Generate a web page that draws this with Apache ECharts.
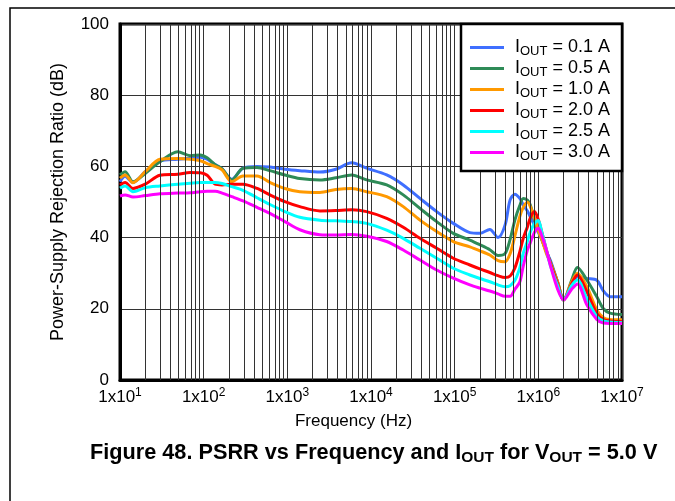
<!DOCTYPE html>
<html>
<head>
<meta charset="utf-8">
<script src="https://cdn.jsdelivr.net/npm/echarts@6/dist/echarts.min.js"></script>
<style>
  html, body { margin: 0; padding: 0; background: #fff; }
  #chart { width: 675px; height: 501px; }
</style>
</head>
<body>
<div id="chart"></div>
<script>
// frequency points (Hz)
const freqHz = [10, 11.5, 14.3, 20, 30, 49, 69, 91, 110, 137, 166, 217, 295, 434, 620, 935, 1410, 2450, 3800, 5870,
  8870, 15400, 24300, 38500, 61000, 96300, 152000, 200000, 263000, 330000, 400000, 460000, 525000, 600000, 660000,
  740000, 800000, 900000, 1000000, 1100000, 1250000, 1400000, 1700000, 2000000, 2500000, 2930000, 3800000,
  5000000, 6000000, 7200000, 10000000];

// PSRR (dB) for each load current
const psrr01 = [55.7, 57.2, 55.5, 58.5, 61.5, 62, 62.3, 62.6, 62, 60.5, 59.3, 56.4, 59.5, 60, 59.8, 59.2, 58.8, 58.4, 59.2, 61,
  59.5, 57.6, 54.8, 51, 47.3, 44, 41.4, 41.2, 42.3, 40, 43.5, 50.6, 52.2, 51, 49.2,
  47.5, 45.9, 43.5, 41.5, 39.5, 36, 33.5, 27.5, 22.5, 26.5, 29, 28.5,
  28, 25, 23.4, 23.4];
const psrr05 = [57.6, 58.5, 55.7, 58, 61.3, 64.1, 63, 63.2, 62.4, 60.5, 59.3, 56.2, 59.5, 59.7, 58.8, 57.6, 56.6, 56.2, 56.8, 57.6,
  56.2, 54.8, 52, 48.2, 44.5, 41.2, 39.3, 38, 36.6, 35, 35.5, 39.5, 45, 49, 51,
  50.5, 49.2, 45, 42, 39.5, 36, 33, 27.5, 22.5, 28, 31.6, 28.1,
  23.4, 20, 18.8, 18.4];
const psrr10 = [56.7, 57.6, 55.4, 58.5, 62, 62.2, 62, 61.6, 60.8, 60, 59, 55.7, 57.3, 57.3, 55.5, 53.8, 52.9, 52.7, 53.5, 53.8,
  52.9, 51.5, 48.7, 44.9, 41.7, 38.9, 37.4, 36.3, 35.1, 33.5, 33.2, 35.5, 40.5, 45.9, 48.5,
  49.9, 48.8, 45.5, 42, 39.5, 35.5, 32.8, 27.5, 22.5, 27.5, 30, 26.2,
  19.7, 17.5, 17, 16.9];
const psrr20 = [54.8, 55.5, 53.8, 55, 57.5, 57.8, 58.3, 58.2, 57.5, 55, 54.8, 55, 55, 53.8, 52, 50.1, 48.7, 47.5, 47.6, 47.8,
  47.3, 45.4, 42.9, 39.8, 37, 34.2, 32.3, 31.2, 30.2, 29.3, 28.8, 29.2, 31.5, 36, 39.8,
  43, 45.5, 47.3, 45, 41.5, 36.5, 32.5, 27, 22.5, 27, 29.5, 24.8,
  18.7, 17, 16.6, 16.4];
const psrr25 = [53.9, 54.5, 52.9, 54, 54.5, 55, 55.3, 55.5, 55.5, 55.5, 55.2, 54.3, 53.3, 51.2, 49.3, 47.3, 45.7, 44.9, 44.7, 44.5,
  44, 42.1, 39.8, 37, 34.2, 31.4, 29.5, 28.5, 27.6, 26.7, 26.2, 26.5, 28, 31.5, 35.6,
  39, 41.5, 44, 44.8, 41.5, 36.5, 32, 26.5, 22.5, 26.5, 28.1, 22.9,
  17.8, 16.6, 16.3, 16.1];
const psrr30 = [51.7, 52, 51.4, 51.8, 52.3, 52.5, 52.6, 52.9, 53, 53, 52.5, 51.5, 50.3, 48.5, 46.8, 44.5, 42.2, 40.8, 40.7, 40.9,
  40.4, 38.9, 36.5, 33.7, 30.9, 28.6, 26.7, 25.8, 25, 24.2, 23.5, 23.5, 25.5, 27.5, 32,
  36.5, 38.5, 41.5, 42.6, 40.5, 36.5, 32, 25.5, 22.5, 25.5, 27, 21.1,
  17, 16, 15.9, 15.9];

const currents = ['0.1', '0.5', '1.0', '2.0', '2.5', '3.0'];
const colors = ['#3f6fff', '#2e8b57', '#ff9900', '#ff0000', '#00ffff', '#ff00ff'];
const seriesValues = [psrr01, psrr05, psrr10, psrr20, psrr25, psrr30];

// decades and minor multipliers for the log grid
const decades = [1, 2, 3, 4, 5, 6];
const minorMultipliers = [2, 3, 4, 5, 6, 7, 8, 9];

const font = 'Liberation Sans, Arial, sans-serif';

const minorLines = [];
decades.forEach(d => {
  minorMultipliers.forEach(m => {
    minorLines.push({ xAxis: d + Math.log10(m) });
  });
});

const chart = echarts.init(document.getElementById('chart'));

const series = seriesValues.map((vals, i) => ({
  name: 'I_OUT = ' + currents[i] + ' A',
  type: 'line',
  smooth: 0.3,
  showSymbol: false,
  symbol: 'none',
  z: 2,
  lineStyle: { color: colors[i], width: 3 },
  itemStyle: { color: colors[i] },
  emphasis: { disabled: true },
  data: freqHz.map((f, k) => [Math.log10(f), vals[k]])
}));

// minor vertical grid lines
series.push({
  type: 'line',
  data: [],
  silent: true,
  z: 1,
  markLine: {
    silent: true,
    symbol: 'none',
    animation: false,
    label: { show: false },
    lineStyle: { color: '#333', width: 1, type: 'solid' },
    data: minorLines
  }
});

const option = {
  animation: false,
  textStyle: { fontFamily: font },
  title: {
    text: '{b|Figure 48. PSRR vs Frequency and I}{s|OUT}{b| for V}{s|OUT}{b| = 5.0 V}',
    left: 85,
    top: 436,
    textStyle: {
      rich: {
        b: { fontFamily: font, fontWeight: 'bold', fontSize: 21.7, color: '#000', lineHeight: 24 },
        s: { fontFamily: font, fontWeight: 'bold', fontSize: 15.5, color: '#000', padding: [9, 0, 0, 0], lineHeight: 15 }
      }
    }
  },
  legend: {
    orient: 'vertical',
    left: 465,
    top: 32,
    itemWidth: 34,
    itemHeight: 3,
    itemGap: 0,
    icon: 'rect',
    selectedMode: false,
    zlevel: 1,
    z: 5,
    formatter: name => '{t|I}{s|OUT}{t|' + name.replace('I_OUT', '') + '}',
    textStyle: {
      padding: [0, 0, 0, 6],
      rich: {
        t: { fontFamily: font, fontSize: 18, color: '#000', lineHeight: 21 },
        s: { fontFamily: font, fontSize: 13, color: '#000', padding: [8, 0, 0, 0], lineHeight: 13 }
      }
    },
    data: series.slice(0, 6).map(s => s.name)
  },
  grid: {
    left: 120,
    right: 53,
    top: 24,
    bottom: 121,
    show: true,
    borderColor: '#000',
    borderWidth: 3,
    backgroundColor: 'transparent'
  },
  xAxis: {
    type: 'value',
    min: 1,
    max: 7,
    interval: 1,
    name: 'Frequency (Hz)',
    nameLocation: 'middle',
    nameGap: 29,
    nameTextStyle: { fontFamily: font, fontSize: 17, color: '#000', padding: [0, 35, 0, 0] },
    axisLine: { show: true, lineStyle: { color: '#000', width: 3 } },
    axisTick: { show: false },
    splitLine: { show: true, lineStyle: { color: '#333', width: 1 } },
    axisLabel: {
      margin: 8,
      formatter: v => '{m|1x10}{p|' + v + '}',
      rich: {
        m: { fontFamily: font, fontSize: 17, color: '#000', lineHeight: 19 },
        p: { fontFamily: font, fontSize: 12, color: '#000', padding: [0, 0, 9, 0], lineHeight: 12 }
      }
    }
  },
  yAxis: {
    type: 'value',
    min: 0,
    max: 100,
    interval: 20,
    name: 'Power-Supply Rejection Ratio (dB)',
    nameLocation: 'middle',
    nameGap: 53,
    nameRotate: 90,
    nameTextStyle: { fontFamily: font, fontSize: 18, color: '#000' },
    axisLine: { show: true, lineStyle: { color: '#000', width: 3 } },
    axisTick: { show: false },
    splitLine: { show: true, lineStyle: { color: '#333', width: 1 } },
    axisLabel: { margin: 11, fontFamily: font, fontSize: 17, color: '#000' }
  },
  graphic: [
    {
      type: 'rect',
      z: 0,
      silent: true,
      shape: { x: 10, y: 8, width: 700, height: 600 },
      style: { fill: 'none', stroke: '#000', lineWidth: 1.5 }
    },
    {
      type: 'rect',
      zlevel: 1,
      z: 0,
      silent: true,
      shape: { x: 461, y: 24, width: 161, height: 147 },
      style: { fill: '#fff', stroke: '#000', lineWidth: 2.5 }
    }
  ],
  series: series
};

chart.setOption(option);
</script>
</body>
</html>
